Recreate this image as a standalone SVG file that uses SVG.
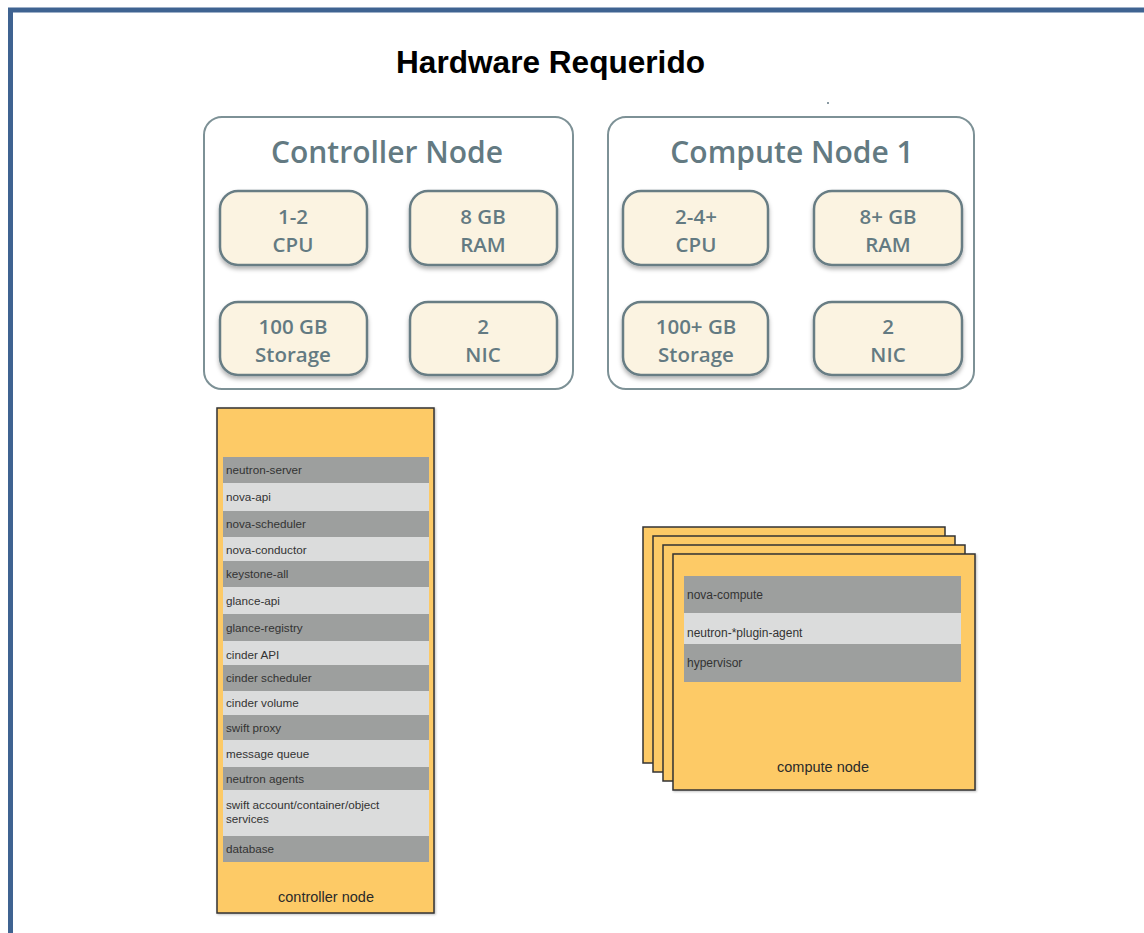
<svg xmlns="http://www.w3.org/2000/svg" width="1144" height="933" viewBox="0 0 1144 933">
<style>
.frame{fill:none;stroke:#3f6391;stroke-width:5}
.title{font-family:"Liberation Sans",Arial,sans-serif;font-weight:bold;font-size:31.6px;fill:#000}
.hwbox{fill:#fff;stroke:#7d9196;stroke-width:2}
.hwtitle{font-family:"Open Sans","DejaVu Sans",sans-serif;font-weight:600;font-size:30px;fill:#637a82;text-anchor:middle}
.spec{fill:#fbf3e1;stroke:#687d84;stroke-width:2.5}
.spectxt{font-family:"Open Sans","DejaVu Sans",sans-serif;font-weight:600;font-size:20.5px;fill:#637a82;text-anchor:middle}
.card{fill:#fdca66;stroke:#333;stroke-width:1.5}
.dark{fill:#9d9f9e}
.light{fill:#dbdcdc}
.row{font-family:"Liberation Sans",Arial,sans-serif;font-size:11.7px;fill:#333}
.crow{font-family:"Liberation Sans",Arial,sans-serif;font-size:12px;fill:#333}
.lbl{font-family:"Liberation Sans",Arial,sans-serif;font-size:14.5px;fill:#2a2a2a;text-anchor:middle}
</style>
<defs>
<filter id="sh" x="-10%" y="-10%" width="120%" height="130%">
<feDropShadow dx="0" dy="3" stdDeviation="2" flood-color="#000" flood-opacity="0.3"/>
</filter>
<filter id="sh2" x="-5%" y="-5%" width="115%" height="115%">
<feDropShadow dx="1" dy="1" stdDeviation="1" flood-color="#000" flood-opacity="0.25"/>
</filter>
</defs>
<rect width="1144" height="933" fill="#fff"/>
<path class="frame" d="M10.5,940 V10 H1150"/>
<text class="title" x="396" y="73">Hardware Requerido</text>
<rect x="827" y="102" width="2" height="2" fill="#8a9aa3"/>

<g id="controller-hw">
<rect class="hwbox" x="204" y="117" width="369" height="272" rx="18"/>
<text class="hwtitle" x="387" y="163">Controller Node</text>
<g filter="url(#sh)">
<rect class="spec" x="220" y="191" width="147" height="74" rx="18"/>
<rect class="spec" x="410" y="191" width="147" height="74" rx="18"/>
<rect class="spec" x="220" y="302" width="147" height="73" rx="18"/>
<rect class="spec" x="410" y="302" width="147" height="73" rx="18"/>
</g>
<text class="spectxt" x="293" y="224">1-2</text>
<text class="spectxt" x="293" y="252">CPU</text>
<text class="spectxt" x="483" y="224">8 GB</text>
<text class="spectxt" x="483" y="252">RAM</text>
<text class="spectxt" x="293" y="334">100 GB</text>
<text class="spectxt" x="293" y="362">Storage</text>
<text class="spectxt" x="483" y="334">2</text>
<text class="spectxt" x="483" y="362">NIC</text>
</g>

<g id="compute-hw">
<rect class="hwbox" x="608" y="117" width="366" height="272" rx="18"/>
<text class="hwtitle" x="792" y="163">Compute Node 1</text>
<g filter="url(#sh)">
<rect class="spec" x="623" y="191" width="145" height="74" rx="18"/>
<rect class="spec" x="814" y="191" width="148" height="74" rx="18"/>
<rect class="spec" x="623" y="302" width="145" height="73" rx="18"/>
<rect class="spec" x="814" y="302" width="148" height="73" rx="18"/>
</g>
<text class="spectxt" x="696" y="224">2-4+</text>
<text class="spectxt" x="696" y="252">CPU</text>
<text class="spectxt" x="888" y="224">8+ GB</text>
<text class="spectxt" x="888" y="252">RAM</text>
<text class="spectxt" x="696" y="334">100+ GB</text>
<text class="spectxt" x="696" y="362">Storage</text>
<text class="spectxt" x="888" y="334">2</text>
<text class="spectxt" x="888" y="362">NIC</text>
</g>

<g id="controller-node">
<rect class="card" x="217" y="408" width="217" height="505" filter="url(#sh2)"/>
<rect class="dark" x="223" y="457" width="206" height="26"/>
<rect class="light" x="223" y="483" width="206" height="28"/>
<rect class="dark" x="223" y="511" width="206" height="26"/>
<rect class="light" x="223" y="537" width="206" height="24"/>
<rect class="dark" x="223" y="561" width="206" height="26"/>
<rect class="light" x="223" y="587" width="206" height="27"/>
<rect class="dark" x="223" y="614" width="206" height="27"/>
<rect class="light" x="223" y="641" width="206" height="24"/>
<rect class="dark" x="223" y="665" width="206" height="26"/>
<rect class="light" x="223" y="691" width="206" height="24"/>
<rect class="dark" x="223" y="715" width="206" height="25"/>
<rect class="light" x="223" y="740" width="206" height="27"/>
<rect class="dark" x="223" y="767" width="206" height="23"/>
<rect class="light" x="223" y="790" width="206" height="46"/>
<rect class="dark" x="223" y="836" width="206" height="26"/>
<text class="row" x="226" y="474">neutron-server</text>
<text class="row" x="226" y="501">nova-api</text>
<text class="row" x="226" y="528">nova-scheduler</text>
<text class="row" x="226" y="554">nova-conductor</text>
<text class="row" x="226" y="578">keystone-all</text>
<text class="row" x="226" y="605">glance-api</text>
<text class="row" x="226" y="632">glance-registry</text>
<text class="row" x="226" y="659">cinder API</text>
<text class="row" x="226" y="682">cinder scheduler</text>
<text class="row" x="226" y="707">cinder volume</text>
<text class="row" x="226" y="732">swift proxy</text>
<text class="row" x="226" y="758">message queue</text>
<text class="row" x="226" y="783">neutron agents</text>
<text class="row" x="226" y="809">swift account/container/object</text>
<text class="row" x="226" y="823">services</text>
<text class="row" x="226" y="853">database</text>
<text class="lbl" x="326" y="902">controller node</text>
</g>

<g id="compute-node">
<rect class="card" x="643" y="527" width="302" height="236"/>
<rect class="card" x="653" y="536" width="302" height="236"/>
<rect class="card" x="663" y="545" width="302" height="236"/>
<rect class="card" x="673" y="554" width="302" height="236" filter="url(#sh2)"/>
<rect class="dark" x="684" y="576" width="277" height="37"/>
<rect class="light" x="684" y="613" width="277" height="31"/>
<rect class="dark" x="684" y="644" width="277" height="38"/>
<text class="crow" x="687" y="599">nova-compute</text>
<text class="crow" x="687" y="637">neutron-*plugin-agent</text>
<text class="crow" x="687" y="667">hypervisor</text>
<text class="lbl" x="823" y="772">compute node</text>
</g>
</svg>
